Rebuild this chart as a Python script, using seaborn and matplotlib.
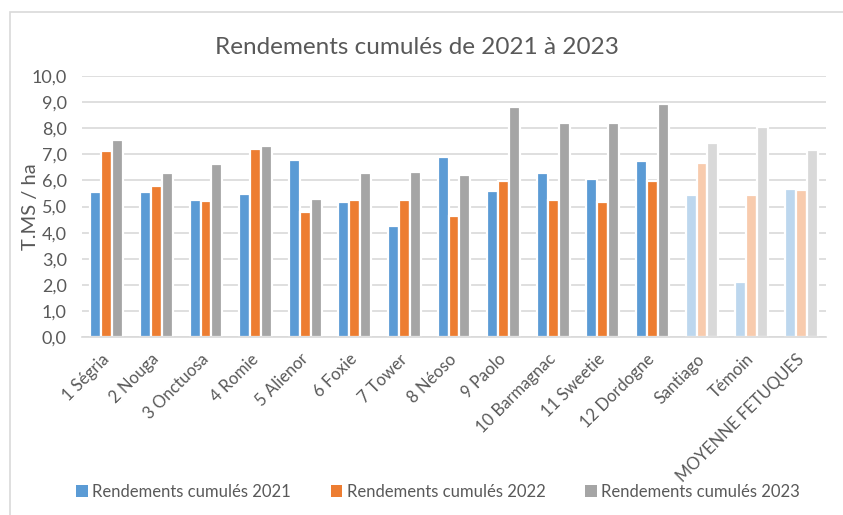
import matplotlib
matplotlib.use("Agg")
import matplotlib.pyplot as plt
from matplotlib.patches import Patch, Rectangle
from matplotlib.ticker import FuncFormatter
import seaborn as sns
import pandas as pd

categories = ["1 Ségria", "2 Nouga", "3 Onctuosa", "4 Romie", "5 Alienor", "6 Foxie",
              "7 Tower", "8 Néoso", "9 Paolo", "10 Barmagnac", "11 Sweetie",
              "12 Dordogne", "Santiago", "Témoin", "MOYENNE FETUQUES"]
series_names = ["Rendements cumulés 2021", "Rendements cumulés 2022", "Rendements cumulés 2023"]
r2021 = [5.55, 5.55, 5.26, 5.48, 6.78, 5.16, 4.27, 6.89, 5.58, 6.27, 6.05, 6.74, 5.44, 2.10, 5.67]
r2022 = [7.11, 5.78, 5.20, 7.20, 4.78, 5.26, 5.26, 4.62, 5.97, 5.24, 5.16, 5.97, 6.65, 5.44, 5.63]
r2023 = [7.53, 6.29, 6.62, 7.32, 5.30, 6.27, 6.33, 6.20, 8.80, 8.19, 8.19, 8.92, 7.41, 8.03, 7.16]
light_categories = ["Santiago", "Témoin", "MOYENNE FETUQUES"]

colors = ["#5B9BD5", "#ED7D31", "#A5A5A5"]
light_colors = ["#BDD7EE", "#F8CBAD", "#D9D9D9"]

rows = []
for name, vals in zip(series_names, [r2021, r2022, r2023]):
    for c, v in zip(categories, vals):
        rows.append({"variete": c, "valeur": v, "serie": name})
df = pd.DataFrame(rows)

sns.set_theme(style="white")
plt.rcParams["font.family"] = ["Lato", "DejaVu Sans"]
text_color = "#595959"

fig = plt.figure(figsize=(8.43, 5.15), dpi=100)
W, H = 843, 515
ax = fig.add_axes([82 / W, 1 - 337.3 / H, (826 - 82) / W, (337.3 - 75.7) / H])

sns.barplot(data=df, x="variete", y="valeur", hue="serie", hue_order=series_names,
            order=categories, palette=colors, saturation=1, width=0.665,
            edgecolor="white", linewidth=1.6, legend=False, ax=ax, errorbar=None)

for ci, cont in enumerate(ax.containers):
    for bi, bar in enumerate(cont):
        if categories[bi] in light_categories:
            bar.set_facecolor(light_colors[ci])

ax.set_ylim(0, 10)
ax.set_xlim(-0.5, len(categories) - 0.5)
ax.set_yticks([i for i in range(11)])
ax.yaxis.set_major_formatter(FuncFormatter(lambda v, p: f"{v:.1f}".replace(".", ",")))
ax.grid(axis="y", color="#D9D9D9", linewidth=1.2)
ax.set_axisbelow(True)
for s in ["top", "right", "left"]:
    ax.spines[s].set_visible(False)
ax.spines["bottom"].set_color("#D9D9D9")
ax.spines["bottom"].set_linewidth(1.2)
ax.tick_params(axis="y", length=0, colors=text_color, labelsize=13, pad=11)
ax.tick_params(axis="x", length=0, colors=text_color, labelsize=12, pad=14)
ax.set_xlabel("")
ax.set_ylabel("T.MS / ha", fontsize=14.5, color=text_color)
ax.yaxis.set_label_coords(-0.058, 0.5)
ax.set_xticks(range(len(categories)))
ax.set_xticklabels(categories, rotation=45, ha="right", va="center",
                   rotation_mode="anchor", fontsize=12, color=text_color)

fig.text(417 / W, 1 - 47 / H, "Rendements cumulés de 2021 à 2023", ha="center",
         va="center", fontsize=17.5, color=text_color)

handles = [Patch(facecolor=c, edgecolor="none") for c in colors]
fig.legend(handles, series_names, loc="center", bbox_to_anchor=(438 / W, 1 - 491.7 / H),
           ncol=3, frameon=False, fontsize=12, labelcolor=text_color,
           handlelength=0.7, handleheight=0.7, handletextpad=0.25, columnspacing=2.4)

fig.add_artist(Rectangle((10 / W, -0.1), 1.2, 1 - 12 / H + 0.1, transform=fig.transFigure,
                         fill=False, edgecolor="#D9D9D9", linewidth=1.2))

fig.savefig("out.png", dpi=100)
